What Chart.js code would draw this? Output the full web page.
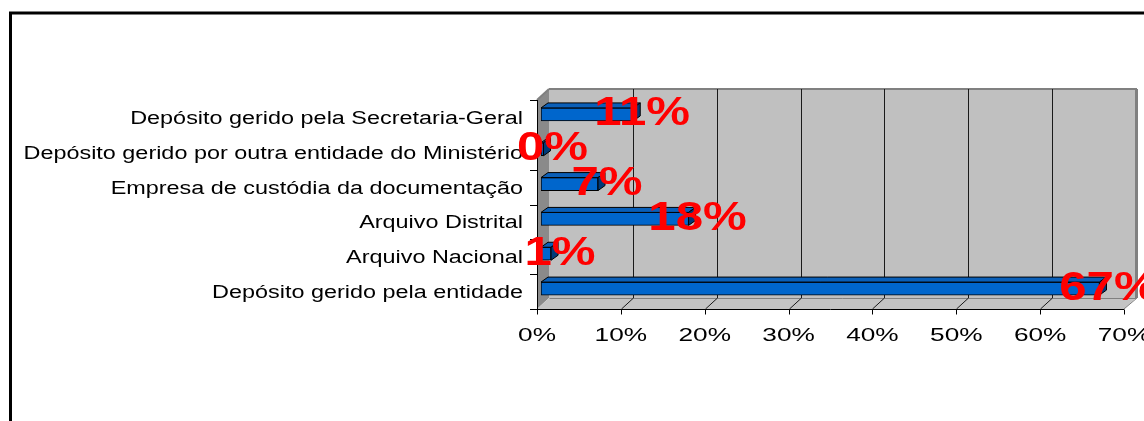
<!DOCTYPE html>
<html>
<head>
<meta charset="utf-8">
<script src="https://cdn.jsdelivr.net/npm/chart.js@4.4.1/dist/chart.umd.min.js"></script>
<style>
  html, body { margin: 0; padding: 0; background: #fff; }
  #wrap { width: 1144px; height: 421px; }
</style>
</head>
<body>
<div id="wrap"><canvas id="chart_storage" width="1144" height="421"></canvas></div>
<script>
// where the documentation is kept (share of answers)
var categories = [
  'Depósito gerido pela Secretaria-Geral',
  'Depósito gerido por outra entidade do Ministério',
  'Empresa de custódia da documentação',
  'Arquivo Distrital',
  'Arquivo Nacional',
  'Depósito gerido pela entidade'
];
var shares = [11.0, 0.3, 6.8, 17.6, 1.2, 66.6];
var xTickValues = [0, 10, 20, 30, 40, 50, 60, 70];

var depth = { dx: 12, dy: -11 };     // depth of the 3d box
var barDepth = { dx: 7, dy: -5 };     // depth of each bar
var barShift = { dx: 4, dy: -3 };     // bars sit a little inside the box

function stretchedText(ctx, text, x, y, sx, align) {
  ctx.save();
  ctx.translate(x, y);
  ctx.scale(sx, 1);
  ctx.textAlign = align;
  ctx.textBaseline = 'alphabetic';
  ctx.fillText(text, 0, 0);
  ctx.restore();
}

function line(ctx, x1, y1, x2, y2) {
  ctx.beginPath();
  ctx.moveTo(x1, y1);
  ctx.lineTo(x2, y2);
  ctx.stroke();
}

var chart_storage = new Chart(document.getElementById('chart_storage'), {
  type: 'bar',
  data: {
    labels: categories,
    datasets: [{
      label: 'Local',
      data: shares,
      backgroundColor: '#0066cc',
      borderColor: '#000000',
      borderWidth: 1,
      borderSkipped: false,
      barThickness: 13
    }]
  },
  options: {
    indexAxis: 'y',
    animation: false,
    responsive: false,
    devicePixelRatio: 1,
    layout: { padding: { left: 0, right: 20, top: 100, bottom: 0 } },
    plugins: {
      legend: { display: false },
      tooltip: { enabled: false },
      title: { display: false }
    },
    scales: {
      x: {
        type: 'linear',
        min: 0,
        max: 70,
        ticks: { display: false, stepSize: 10 },
        grid: { display: false },
        border: { display: false },
        afterFit: function(scale) { scale.height = 112; }
      },
      y: {
        type: 'category',
        ticks: { display: false },
        grid: { display: false },
        border: { display: false },
        afterFit: function(scale) { scale.width = 537; }
      }
    }
  },
  plugins: [{
    id: 'box3d',
    beforeDraw: function(chart) {
      var ctx = chart.ctx;
      ctx.save();
      ctx.fillStyle = '#ffffff';
      ctx.fillRect(0, 0, chart.width, chart.height);
      ctx.strokeStyle = '#000000';
      ctx.lineWidth = 3;
      ctx.strokeRect(10.5, 13, 2000, 2000);
      ctx.restore();
    },
    beforeDatasetsDraw: function(chart) {
      var ctx = chart.ctx;
      var ca = chart.chartArea;
      var xs = chart.scales.x;
      var ys = chart.scales.y;
      var dx = depth.dx, dy = depth.dy;
      ctx.save();

      // back wall
      ctx.fillStyle = '#c0c0c0';
      ctx.fillRect(ca.left + dx, ca.top + dy, ca.right - ca.left, ca.bottom - ca.top);
      // left wall
      ctx.fillStyle = '#8a8a8a';
      ctx.beginPath();
      ctx.moveTo(ca.left, ca.top);
      ctx.lineTo(ca.left + dx, ca.top + dy);
      ctx.lineTo(ca.left + dx, ca.bottom + dy);
      ctx.lineTo(ca.left, ca.bottom);
      ctx.closePath();
      ctx.fill();
      // floor
      ctx.fillStyle = '#c4c4c4';
      ctx.beginPath();
      ctx.moveTo(ca.left, ca.bottom);
      ctx.lineTo(ca.left + dx, ca.bottom + dy);
      ctx.lineTo(ca.right + dx, ca.bottom + dy);
      ctx.lineTo(ca.right, ca.bottom);
      ctx.closePath();
      ctx.fill();

      // wall edges
      ctx.strokeStyle = '#808080';
      ctx.lineWidth = 2;
      line(ctx, ca.left, ca.top, ca.left + dx, ca.top + dy);
      line(ctx, ca.left + dx, ca.top + dy, ca.right + dx + 1, ca.top + dy);
      ctx.lineWidth = 3;
      line(ctx, ca.right + dx + 0.5, ca.top + dy, ca.right + dx + 0.5, ca.bottom + dy);
      ctx.lineWidth = 1;
      line(ctx, ca.left + dx + 0.5, ca.bottom + dy + 0.5, ca.right + dx, ca.bottom + dy + 0.5);
      line(ctx, ca.right, ca.bottom, ca.right + dx + 1, ca.bottom + dy);

      // gridlines on the back wall and the floor
      ctx.strokeStyle = '#1a1a1a';
      ctx.lineWidth = 1;
      xTickValues.forEach(function(v) {
        if (v === 0 || v === xs.max) return;
        var px = Math.round(xs.getPixelForValue(v)) + 0.5;
        line(ctx, px + dx, ca.top + dy, px + dx, ca.bottom + dy);
        line(ctx, px, ca.bottom, px + dx, ca.bottom + dy);
      });

      // front axes
      ctx.strokeStyle = '#000000';
      var bottom = Math.round(ca.bottom) + 0.5;
      var left = Math.round(ca.left) + 0.5;
      line(ctx, ca.left, bottom, ca.right, bottom);
      line(ctx, left, ca.top, left, ca.bottom + 5);
      xTickValues.forEach(function(v) {
        var px = Math.round(xs.getPixelForValue(v)) + 0.5;
        line(ctx, px, bottom, px, bottom + 5);
      });
      var step = (ca.bottom - ca.top) / categories.length;
      for (var i = 0; i <= categories.length; i++) {
        var py = Math.round(ca.top + i * step) + 0.5;
        line(ctx, ca.left - 7, py, ca.left, py);
      }

      // category labels
      ctx.fillStyle = '#000000';
      ctx.font = '18px "Liberation Sans", Arial, sans-serif';
      categories.forEach(function(c, i) {
        stretchedText(ctx, c, ca.left - 14, ys.getPixelForValue(i) + 6.5, 1.3, 'right');
      });
      // value axis labels
      ctx.font = '19px "Liberation Sans", Arial, sans-serif';
      xTickValues.forEach(function(v) {
        stretchedText(ctx, v + '%', xs.getPixelForValue(v), ca.bottom + 32, 1.38, 'center');
      });
      ctx.restore();

      // bars are drawn a little inside the box
      ctx.save();
      ctx.translate(barShift.dx, barShift.dy);
    },
    afterDatasetsDraw: function(chart) {
      var ctx = chart.ctx;
      var meta = chart.getDatasetMeta(0);
      var bx = barDepth.dx, by = barDepth.dy;
      ctx.lineWidth = 1;
      ctx.strokeStyle = '#000000';
      meta.data.forEach(function(el) {
        var p = el.getProps(['x', 'y', 'base', 'height'], true);
        var top = p.y - p.height / 2, bot = p.y + p.height / 2;
        var l = p.base, r = p.x;
        // top face
        ctx.fillStyle = '#0a5fb8';
        ctx.beginPath();
        ctx.moveTo(l, top);
        ctx.lineTo(l + bx, top + by);
        ctx.lineTo(r + bx, top + by);
        ctx.lineTo(r, top);
        ctx.closePath();
        ctx.fill();
        ctx.stroke();
        // side face
        ctx.fillStyle = '#003a78';
        ctx.beginPath();
        ctx.moveTo(r, top);
        ctx.lineTo(r + bx, top + by);
        ctx.lineTo(r + bx, bot + by);
        ctx.lineTo(r, bot);
        ctx.closePath();
        ctx.fill();
        ctx.stroke();
      });
      ctx.restore();

      // value labels
      ctx.save();
      ctx.fillStyle = '#ff0000';
      ctx.font = 'bold 41px "Liberation Sans", Arial, sans-serif';
      meta.data.forEach(function(el, i) {
        var p = el.getProps(['x', 'y'], true);
        var txt = Math.round(shares[i]) + '%';
        stretchedText(ctx, txt, p.x + barShift.dx + 9, p.y + 8, 1.2, 'center');
      });
      ctx.restore();
    }
  }]
});
</script>
</body>
</html>
